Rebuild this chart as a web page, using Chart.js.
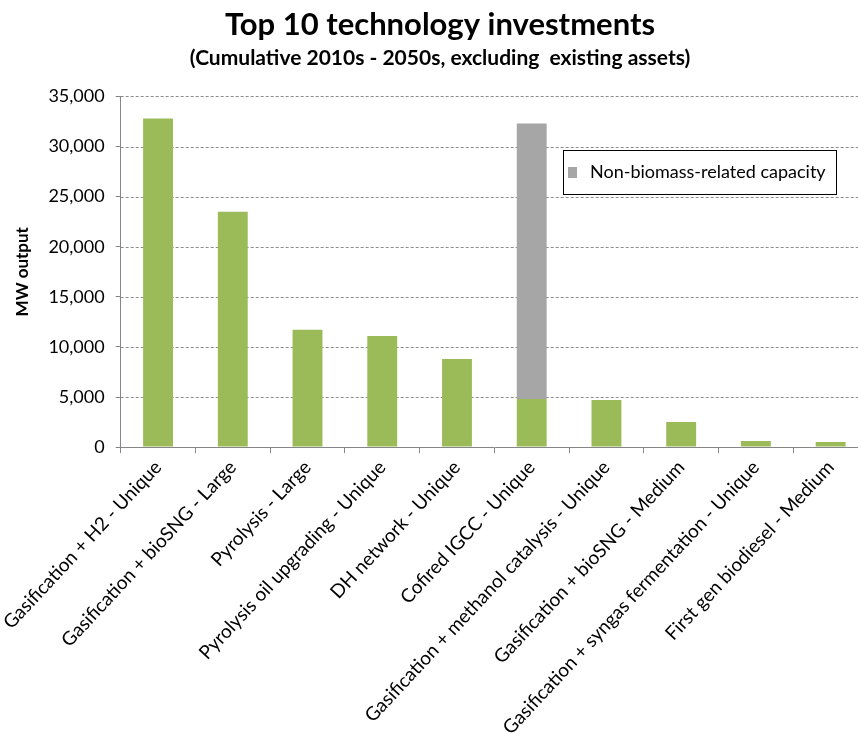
<!DOCTYPE html>
<html>
<head>
<meta charset="utf-8">
<script src="https://cdn.jsdelivr.net/npm/chart.js@4"></script>
<style>
  html, body { margin: 0; padding: 0; background: #fff; overflow: hidden; }
  #wrap { position: relative; width: 868px; height: 742px; }
</style>
</head>
<body>
<div id="wrap"><canvas id="investments"></canvas></div>
<script>
const technologies = [
  'Gasification + H2 - Unique',
  'Gasification + bioSNG - Large',
  'Pyrolysis - Large',
  'Pyrolysis oil upgrading - Unique',
  'DH network - Unique',
  'Cofired IGCC - Unique',
  'Gasification + methanol catalysis - Unique',
  'Gasification + bioSNG - Medium',
  'Gasification + syngas fermentation - Unique',
  'First gen biodiesel - Medium'
];
const biomassCapacity = [32800, 23500, 11700, 11100, 8800, 4800, 4700, 2500, 600, 500];
const nonBiomassCapacity = [0, 0, 0, 0, 0, 27500, 0, 0, 0, 0];
const yTicks = [0, 5000, 10000, 15000, 20000, 25000, 30000, 35000];

const FONT = 'Lato, "Open Sans", sans-serif';

// legend box drawn inside the plot, only for the grey series
const insideLegend = {
  id: 'insideLegend',
  afterDraw(chart) {
    const ctx = chart.ctx;
    const ds = chart.data.datasets[1];
    const x = 563, y = 150, w = 273, h = 44;
    ctx.save();
    ctx.fillStyle = '#fff';
    ctx.fillRect(x, y, w, h);
    ctx.strokeStyle = '#000';
    ctx.lineWidth = 1;
    ctx.strokeRect(x + 0.5, y + 0.5, w, h);
    ctx.fillStyle = ds.backgroundColor;
    ctx.fillRect(x + 5, y + 17, 9, 11);
    ctx.fillStyle = '#000';
    ctx.font = '18px ' + FONT;
    ctx.textBaseline = 'middle';
    ctx.fillText(ds.label, x + 27, y + 22);
    ctx.restore();
  }
};

new Chart(document.getElementById('investments'), {
  type: 'bar',
  data: {
    labels: technologies,
    datasets: [
      {
        label: 'Biomass-related capacity',
        data: biomassCapacity,
        backgroundColor: '#9BBB59',
        barPercentage: 0.8,
        categoryPercentage: 0.5
      },
      {
        label: 'Non-biomass-related capacity',
        data: nonBiomassCapacity,
        backgroundColor: '#A6A6A6',
        barPercentage: 0.8,
        categoryPercentage: 0.5
      }
    ]
  },
  options: {
    responsive: true,
    maintainAspectRatio: false,
    animation: false,
    layout: { padding: { left: 12, right: 0, top: 6, bottom: 0 } },
    plugins: {
      legend: { display: false },
      tooltip: { enabled: false },
      title: {
        display: true,
        text: 'Top 10 technology investments',
        color: '#000',
        font: { family: FONT, size: 31, weight: 'bold' },
        padding: { top: 0, bottom: 2 }
      },
      subtitle: {
        display: true,
        text: '(Cumulative 2010s - 2050s, excluding  existing assets)',
        color: '#000',
        font: { family: FONT, size: 21, weight: 'bold' },
        padding: { top: 0, bottom: 26 }
      }
    },
    scales: {
      x: {
        stacked: true,
        border: { color: '#868686' },
        grid: {
          drawOnChartArea: false,
          color: '#868686',
          tickLength: 6
        },
        ticks: {
          color: '#000',
          minRotation: 47,
          maxRotation: 47,
          autoSkip: false,
          padding: 3,
          font: { family: FONT, size: 19 }
        },
        // let the first label run off to the left instead of pushing the axis in
        afterFit(scale) {
          scale.paddingLeft = 0;
          scale.paddingRight = 0;
        }
      },
      y: {
        stacked: true,
        min: 0,
        max: 35000,
        afterBuildTicks(axis) {
          axis.ticks = yTicks.map(v => ({ value: v }));
        },
        border: { color: '#868686' },
        grid: {
          drawOnChartArea: false,
          color: '#868686',
          tickLength: 5
        },
        ticks: {
          color: '#000',
          padding: 11,
          font: { family: FONT, size: 18 },
          callback: v => v.toLocaleString('en-US')
        },
        title: {
          display: true,
          text: 'MW output',
          color: '#000',
          font: { family: FONT, size: 17, weight: 'bold' },
          padding: { top: 0, bottom: 5 }
        }
      }
    }
  },
  plugins: [insideLegend, {
    id: 'dashedGrid',
    beforeDatasetsDraw(chart) {
      // dashed horizontal gridlines across the plot
      const { ctx, chartArea, scales } = chart;
      ctx.save();
      ctx.strokeStyle = '#8c8c8c';
      ctx.lineWidth = 1;
      ctx.setLineDash([3, 2]);
      yTicks.forEach(v => {
        if (v === 0) return;
        const y = Math.round(scales.y.getPixelForValue(v)) + 0.5;
        ctx.beginPath();
        ctx.moveTo(chartArea.left, y);
        ctx.lineTo(chartArea.right, y);
        ctx.stroke();
      });
      ctx.restore();
    }
  }]
});
</script>
</body>
</html>
